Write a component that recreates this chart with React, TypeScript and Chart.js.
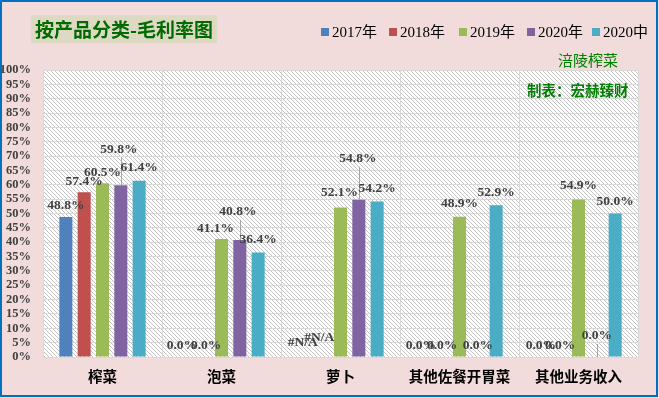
import React, { useEffect, useRef } from "react";
import { Chart, registerables } from "chart.js";

Chart.register(...registerables);

const categories = ["榨菜", "泡菜", "萝卜", "其他佐餐开胃菜", "其他业务收入"];
const seriesNames = ["2017年", "2018年", "2019年", "2020年", "2020中"];
const values2017 = [48.8, 0, null, 0, 0];
const values2018 = [57.4, 0, null, 0, 0];
const values2019 = [60.5, 41.1, 52.1, 48.9, 54.9];
const values2020 = [59.8, 40.8, 54.8, 0, 0];
const values2020H = [61.4, 36.4, 54.2, 52.9, 50.0];
const yTickValues = [0, 5, 10, 15, 20, 25, 30, 35, 40, 45, 50, 55, 60, 65, 70, 75, 80, 85, 90, 95, 100];

const seriesColors = ["#4F81BD", "#C0504D", "#9BBB59", "#8064A2", "#4BACC6"];
// extra lift (px) of each data label above its default spot, and whether a leader line is drawn
const labelLift = [
  [0, 0, 3, 0, 0],
  [0, 0, 8, 0, 0],
  [0, 0, 4, 2, 3],
  [25, 17, 30, 0, 10],
  [2, 2, 2, 2, 1],
];
const labelShiftX = [
  [0, -3, -1, -2, -1],
  [0, 3, -3, 1, 0],
  [0, -6, -1, 0, 0],
  [-2, -2, -1, 0, 0],
  [0, 0, 0, 0, 0],
];
const leaderLines = [
  [false, false, false, false, false],
  [false, false, false, false, false],
  [false, false, false, false, false],
  [true, true, true, false, true],
  [false, false, false, false, false],
];

const allValues = [values2017, values2018, values2019, values2020, values2020H];

function makeHatch(ctx: CanvasRenderingContext2D): CanvasPattern | string {
  const c = document.createElement("canvas");
  c.width = 4;
  c.height = 4;
  const p = c.getContext("2d");
  if (!p) return "#fff";
  p.fillStyle = "#FFFFFF";
  p.fillRect(0, 0, 4, 4);
  p.fillStyle = "#C4C4C4";
  for (let i = 0; i < 4; i++) p.fillRect(i, i, 1, 1);
  return ctx.createPattern(c, "repeat") || "#fff";
}

const decorPlugin = {
  id: "decor",
  beforeDraw(chart: any) {
    const { ctx, chartArea, width, height } = chart;
    ctx.save();
    ctx.fillStyle = "#F2DCDB";
    ctx.fillRect(0, 0, width, height);
    ctx.fillStyle = makeHatch(ctx);
    ctx.fillRect(chartArea.left, chartArea.top, chartArea.right - chartArea.left, chartArea.bottom - chartArea.top);
    ctx.restore();
  },
  afterDatasetsDraw(chart: any) {
    const { ctx } = chart;
    const yScale = chart.scales.y;
    const xScale = chart.scales.x;
    ctx.save();
    ctx.font = "bold 13.5px 'Liberation Serif', serif";
    ctx.textAlign = "center";
    ctx.textBaseline = "middle";
    allValues.forEach((arr, si) => {
      const meta = chart.getDatasetMeta(si);
      arr.forEach((v, ci) => {
        const el: any = meta.data[ci];
        let x = el && isFinite(el.x) ? el.x : xScale.getPixelForValue(ci);
        const top = v === null ? yScale.getPixelForValue(0) : yScale.getPixelForValue(v);
        const text = v === null ? "#N/A" : v.toFixed(1) + "%";
        const cy = top - 11 - labelLift[si][ci];
        const cx = x + labelShiftX[si][ci];
        if (leaderLines[si][ci]) {
          ctx.strokeStyle = "#A6A6A6";
          ctx.lineWidth = 1;
          ctx.beginPath();
          ctx.moveTo(Math.round(x) + 0.5, cy + 8);
          ctx.lineTo(Math.round(x) + 0.5, top);
          ctx.stroke();
        }
        ctx.fillStyle = "#404040";
        ctx.fillText(text, cx, cy);
      });
    });
    ctx.restore();
  },
  afterDraw(chart: any) {
    const { ctx, width, height } = chart;
    ctx.save();
    // title box
    ctx.fillStyle = "#DDD9C3";
    ctx.fillRect(31, 15, 186, 28);
    ctx.fillStyle = "#006B00";
    ctx.font = "bold 19px 'Noto Sans CJK SC', sans-serif";
    ctx.textAlign = "left";
    ctx.textBaseline = "middle";
    ctx.fillText("按产品分类-毛利率图", 35, 30);

    // legend
    const legendX = [321, 389, 459, 527, 592];
    ctx.font = "15px 'Liberation Serif', 'Noto Sans CJK SC', serif";
    seriesNames.forEach((name, i) => {
      ctx.fillStyle = seriesColors[i];
      ctx.fillRect(legendX[i], 28, 8, 8);
      ctx.fillStyle = "#000000";
      ctx.fillText(name, legendX[i] + 11, 33);
    });

    // side notes
    ctx.fillStyle = "#008000";
    ctx.font = "15px 'Noto Sans CJK SC', sans-serif";
    ctx.fillText("涪陵榨菜", 558, 60);
    ctx.font = "bold 14.5px 'Noto Sans CJK SC', sans-serif";
    ctx.fillText("制表：宏赫臻财", 527, 90);

    // outer border
    ctx.strokeStyle = "#0070C0";
    ctx.lineWidth = 2;
    ctx.strokeRect(1, 1, width - 3, height - 3);
    ctx.restore();
  },
};

export default function App() {
  const ref = useRef<HTMLCanvasElement | null>(null);
  useEffect(() => {
    document.body.style.margin = "0";
    const canvas = ref.current;
    if (!canvas) return;
    const chart = new Chart(canvas, {
      type: "bar",
      data: {
        labels: categories,
        datasets: allValues.map((arr, i) => ({
          label: seriesNames[i],
          data: arr as any,
          backgroundColor: seriesColors[i],
          categoryPercentage: 0.77,
          barPercentage: 0.71,
        })),
      },
      options: {
        animation: false,
        responsive: false,
        maintainAspectRatio: false,
        layout: { padding: { top: 70, right: 21, left: 0, bottom: 0 } },
        plugins: {
          legend: { display: false },
          title: { display: false },
          tooltip: { enabled: false },
        },
        scales: {
          x: {
            grid: { color: "#D9D9D9", drawTicks: false, offset: true },
            border: { display: false },
            ticks: {
              color: "#000000",
              font: { family: "'Noto Sans CJK SC', sans-serif", size: 14.5, weight: "bold" },
              padding: 11,
              maxRotation: 0,
              autoSkip: false,
            },
            afterFit: (s: any) => {
              s.height = 41;
            },
          },
          y: {
            min: 0,
            max: 100,
            afterBuildTicks: (s: any) => {
              s.ticks = yTickValues.map((v) => ({ value: v }));
            },
            grid: { color: "#D9D9D9", drawTicks: false },
            border: { display: false },
            ticks: {
              color: "#404040",
              font: { family: "'Liberation Serif', serif", size: 12.5, weight: "bold" },
              padding: 12,
              autoSkip: false,
              callback: (v: any) => v + "%",
            },
            afterFit: (s: any) => {
              s.width = 43;
            },
          },
        },
      },
      plugins: [decorPlugin],
    });
    return () => chart.destroy();
  }, []);
  return (
    <div style={{ position: "absolute", left: 0, top: 0, width: 659, height: 398 }}>
      <canvas ref={ref} width={659} height={398} style={{ width: 659, height: 398, display: "block" }} />
    </div>
  );
}
